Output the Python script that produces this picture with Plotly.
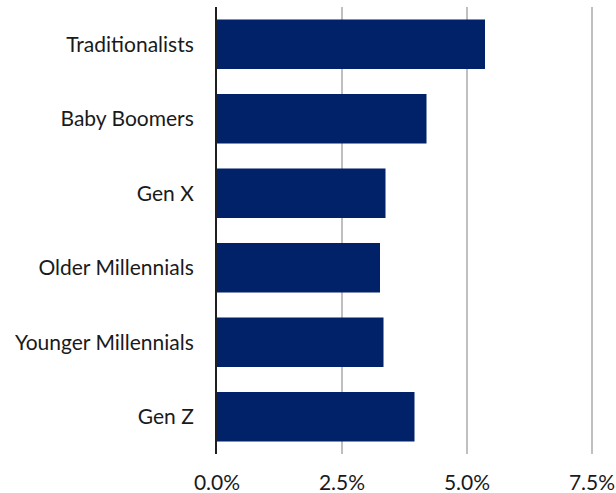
import plotly.graph_objects as go

# Generations, top to bottom, and their values in percent
generations = ["Traditionalists", "Baby Boomers", "Gen X",
               "Older Millennials", "Younger Millennials", "Gen Z"]
values = [5.36, 4.19, 3.37, 3.26, 3.33, 3.95]
tick_vals = [0, 2.5, 5.0, 7.5]
tick_text = ["0.0%", "2.5%", "5.0%", "7.5%"]

fig = go.Figure(
    go.Bar(
        x=values,
        y=generations,
        orientation="h",
        marker=dict(color="#012169", line=dict(width=0)),
        width=0.665,
        hoverinfo="skip",
    )
)

fig.update_layout(
    width=616,
    height=493,
    margin=dict(l=217, r=14, t=7, b=39),
    paper_bgcolor="white",
    plot_bgcolor="white",
    showlegend=False,
    font=dict(family="Lato, 'Open Sans', sans-serif", size=21, color="#1a1a1a"),
)

fig.update_xaxes(
    range=[0, 7.7],
    tickvals=tick_vals,
    ticktext=tick_text,
    showgrid=True,
    gridcolor="#bfbfbf",
    gridwidth=2,
    zeroline=False,
    showline=False,
    ticks="",
    ticklabelstandoff=14,
    automargin=False,
)

fig.update_yaxes(
    categoryorder="array",
    categoryarray=generations[::-1],
    showgrid=False,
    showline=True,
    linecolor="#1f1f1f",
    linewidth=2,
    ticks="",
    ticklabelstandoff=17,
    automargin=False,
)

fig.write_html("out.html")
